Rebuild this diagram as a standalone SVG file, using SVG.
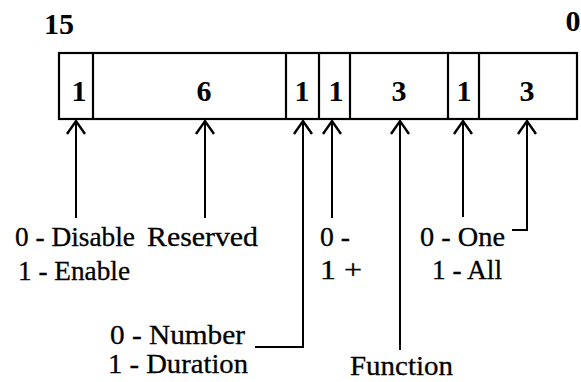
<svg xmlns="http://www.w3.org/2000/svg" width="581" height="382" viewBox="0 0 581 382">
  <style>
    .frame { fill: none; stroke: #000; stroke-width: 2.2; }
    .wire { fill: none; stroke: #000; stroke-width: 2; marker-end: url(#head); }
    .lbl { font-size: 27px; fill: #000; stroke: #000; stroke-width: 0.3; }
    .bits { font-size: 30px; font-weight: bold; fill: #000; text-anchor: middle; }
  </style>
  <defs>
    <marker id="head" markerUnits="userSpaceOnUse" markerWidth="30" markerHeight="30" refX="0" refY="0" orient="auto" overflow="visible">
      <path d="M -13 -9 L 0 0 L -13 9" fill="none" stroke="#000" stroke-width="2.4"/>
    </marker>
  </defs>

  <rect width="581" height="382" fill="#fff"/>

  <g font-family="Liberation Serif, Times New Roman, serif">
  <!-- bit numbering -->
  <text class="bits" x="59" y="34">15</text>
  <text class="bits" x="573" y="31">0</text>

  <!-- register fields -->
  <g id="register">
    <rect class="frame" x="59" y="53" width="518" height="66"/>
    <line class="frame" x1="93" y1="53" x2="93" y2="119"/>
    <line class="frame" x1="286" y1="53" x2="286" y2="119"/>
    <line class="frame" x1="319" y1="53" x2="319" y2="119"/>
    <line class="frame" x1="350" y1="53" x2="350" y2="119"/>
    <line class="frame" x1="448" y1="53" x2="448" y2="119"/>
    <line class="frame" x1="479" y1="53" x2="479" y2="119"/>
    <text class="bits" x="79" y="101">1</text>
    <text class="bits" x="204" y="101">6</text>
    <text class="bits" x="302" y="101">1</text>
    <text class="bits" x="336" y="101">1</text>
    <text class="bits" x="399" y="101">3</text>
    <text class="bits" x="464" y="101">1</text>
    <text class="bits" x="527" y="101">3</text>
  </g>

  <!-- pointers from the descriptions up to the fields -->
  <g id="connectors">
    <path class="wire" d="M 76 218 L 76 121"/>
    <path class="wire" d="M 205 218 L 205 121"/>
    <path class="wire" d="M 255 347 L 303 347 L 303 121"/>
    <path class="wire" d="M 332 218 L 332 121"/>
    <path class="wire" d="M 400 350 L 400 121"/>
    <path class="wire" d="M 463 217 L 463 121"/>
    <path class="wire" d="M 512 230 L 527 230 L 527 121"/>
  </g>

  <g id="enable">
    <text class="lbl" x="15" y="246" textLength="120" lengthAdjust="spacingAndGlyphs">0 - Disable</text>
    <text class="lbl" x="18" y="280" textLength="112" lengthAdjust="spacingAndGlyphs">1 - Enable</text>
  </g>
  <g id="reserved">
    <text class="lbl" x="147" y="246" textLength="111" lengthAdjust="spacingAndGlyphs">Reserved</text>
  </g>
  <g id="mode">
    <text class="lbl" x="110" y="344" textLength="135" lengthAdjust="spacingAndGlyphs">0 - Number</text>
    <text class="lbl" x="108" y="373" textLength="140" lengthAdjust="spacingAndGlyphs">1 - Duration</text>
  </g>
  <g id="sign">
    <text class="lbl" x="320" y="246" textLength="30" lengthAdjust="spacingAndGlyphs">0 -</text>
    <text class="lbl" x="320" y="279" textLength="42" lengthAdjust="spacingAndGlyphs">1 +</text>
  </g>
  <g id="function">
    <text class="lbl" x="350" y="375" textLength="103" lengthAdjust="spacingAndGlyphs">Function</text>
  </g>
  <g id="scope">
    <text class="lbl" x="420" y="246" textLength="85" lengthAdjust="spacingAndGlyphs">0 - One</text>
    <text class="lbl" x="432" y="279" textLength="70" lengthAdjust="spacingAndGlyphs">1 - All</text>
  </g>
  </g>
</svg>
